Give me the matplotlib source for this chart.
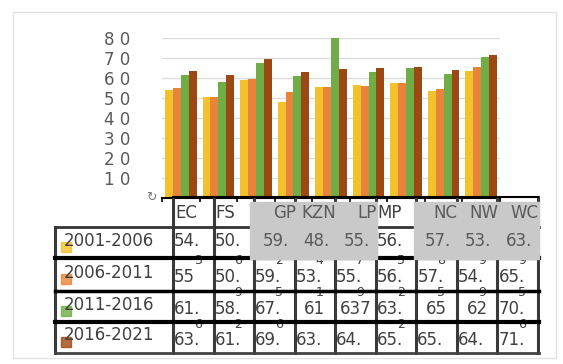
import numpy as np
import matplotlib
matplotlib.use("Agg")
import matplotlib.pyplot as plt
from matplotlib.patches import Rectangle

plt.rcParams["font.family"] = ["DejaVu Sans"]

regions = ["EC", "FS", "GP", "KZN", "LP", "MP", "NC", "NW", "WC"]
periods = ["2001-2006", "2006-2011", "2011-2016", "2016-2021"]
v_0106 = [54.3, 50.6, 59.2, 48.4, 55.7, 56.5, 57.8, 53.9, 63.9]
v_0611 = [55, 50.9, 59.5, 53.1, 55.9, 56.2, 57.5, 54.9, 65.5]
v_1116 = [61.6, 58.2, 67.6, 61, 637, 63.2, 65, 62, 70.6]
v_1621 = [63.9, 61.7, 69.7, 63.4, 64.7, 65.2, 65.7, 64.2, 71.6]
ytick_vals = [10, 20, 30, 40, 50, 60, 70, 80]
ytick_labels = ["1 0", "2 0", "3 0", "4 0", "5 0", "6 0", "7 0", "8 0"]
colors = ["#f3c12c", "#e8843a", "#70ad47", "#9c4812"]
series = [v_0106, v_0611, v_1116, v_1621]

W, H = 563, 364
fig = plt.figure(figsize=(W / 100, H / 100), dpi=100)

# bar chart
ax = fig.add_axes([162 / W, 1 - 198.5 / H, 338 / W, 160.2 / H])
x = np.arange(len(regions))
bw = 0.21
for k, (vals, c) in enumerate(zip(series, colors)):
    ax.bar(x + (k - 1.5) * bw, vals, bw, color=c, zorder=2)
ax.set_xlim(-0.5, len(regions) - 0.5)
ax.set_ylim(0, 80)
ax.set_yticks(ytick_vals, ytick_labels)
ax.tick_params(axis="y", length=0, pad=23, labelsize=12, labelcolor="#595959")
ax.set_xticks(np.arange(-0.5, len(regions), 1), [""] * (len(regions) + 1))
ax.tick_params(axis="x", length=3, width=1.2, color="black")
ax.grid(axis="y", color="#dcdcdc", lw=1)
ax.set_axisbelow(True)
for s in ["top", "right", "left"]:
    ax.spines[s].set_visible(False)
ax.spines["bottom"].set_color("black")
ax.spines["bottom"].set_linewidth(1.5)

# overlay in pixel coords for the data table
tax = fig.add_axes([0, 0, 1, 1])
tax.set_xlim(0, W)
tax.set_ylim(H, 0)
tax.axis("off")

# outer frame
tax.add_patch(Rectangle((13, 12), 543, 346, fill=False, ec="#e2e2e2", lw=1))
tax.text(151, 197, "\u21bb", fontsize=9, color="#777777", ha="center", va="center")

col_l = 173
col_w = 40.55
cols = [col_l + col_w * k for k in range(len(regions) + 1)]
rows = [197, 227, 258, 291, 322, 353]
tc = "#404040"
fs = 12

# grid lines
for cx in cols:
    tax.plot([cx, cx], [197, 353], color="#3a3a3a", lw=2.2, zorder=3)
tax.plot([55, 55], [227, 353], color="#3a3a3a", lw=2.2, zorder=3)
tax.plot([173, cols[-1]], [197, 197], color="black", lw=1.5, zorder=3)
hl = [(227, "#333333", 2), (258, "black", 3), (291, "black", 2.5),
      (322, "black", 3), (353, "#444444", 2)]
for yy, c, w in hl:
    tax.plot([55, cols[-1] + 1], [yy, yy], color=c, lw=w, zorder=3)

# grey selection blocks over header and first row
gray_cols = [2, 3, 4, 6, 7, 8]
tax.add_patch(Rectangle((cols[2] - 4, 202), cols[5] - cols[2] + 5, 57,
                        color="#c9c9c9", zorder=4))
tax.add_patch(Rectangle((cols[6] - 2, 202), cols[9] - cols[6] + 3, 57,
                        color="#c9c9c9", zorder=4))

# header
for i, r in enumerate(regions):
    if i in gray_cols:
        tax.text(cols[i + 1] + 1, 213, r, fontsize=fs, color="#5a5a5a",
                 ha="right", va="center", zorder=5)
    else:
        tax.text(cols[i] + 2, 213, r, fontsize=fs, color=tc,
                 ha="left", va="center", zorder=5)

# row labels with legend keys
for j, (p, c) in enumerate(zip(periods, colors)):
    yc = (rows[j + 1] + rows[j + 2]) / 2
    tax.add_patch(Rectangle((61, yc - 1), 10, 10, color=c, alpha=0.8, zorder=2))
    tax.text(64, yc - 2, p, fontsize=fs, color=tc, ha="left", va="center", zorder=5)

# cell values; the decimal digit spills into the top of the cell below
for j, vals in enumerate(series):
    top, bot = rows[j + 1], rows[j + 2]
    yc = (top + bot) / 2 + (-2 if j == 0 else 2.5)
    for i, v in enumerate(vals):
        whole = float(v).is_integer()
        s = f"{int(v)}" if whole else f"{int(v)}."
        if j == 0 and i in gray_cols:
            tax.text(cols[i + 1] - 6, yc, s, fontsize=fs, color="#5a5a5a",
                     ha="right", va="center", zorder=5)
        elif whole and i > 0:
            tax.text((cols[i] + cols[i + 1]) / 2, yc, s, fontsize=fs, color=tc,
                     ha="center", va="center", zorder=2)
        else:
            tax.text(cols[i] + 1, yc, s, fontsize=fs, color=tc,
                     ha="left", va="center", zorder=2)
        if not whole and j < len(series) - 1:
            d = f"{v:.1f}"[-1]
            tax.text(cols[i] + 25, bot + 2, d, fontsize=9, color=tc,
                     ha="center", va="center", zorder=2)

fig.savefig("out.png", dpi=100)
